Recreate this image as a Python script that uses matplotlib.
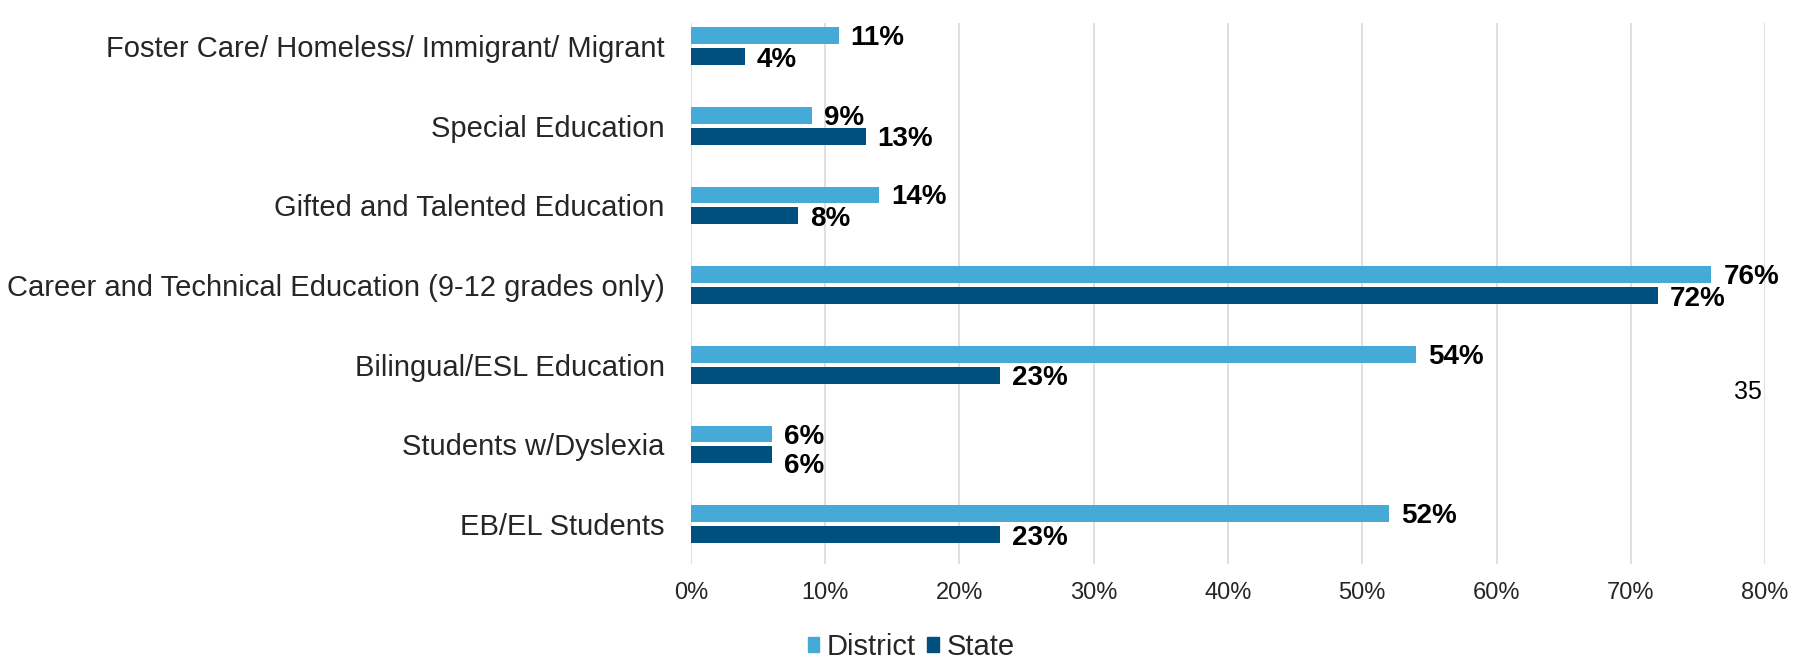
import numpy as np
import matplotlib
matplotlib.use("Agg")
import matplotlib.pyplot as plt
from matplotlib.patches import Patch

plt.rcParams['font.family'] = ['Liberation Sans', 'DejaVu Sans']

# program participation, district vs state (bottom to top)
categories = [
    "EB/EL Students",
    "Students w/Dyslexia",
    "Bilingual/ESL Education",
    "Career and Technical Education (9-12 grades only)",
    "Gifted and Talented Education",
    "Special Education",
    "Foster Care/ Homeless/ Immigrant/ Migrant",
]
district = [52, 6, 54, 76, 14, 9, 11]
state = [23, 6, 23, 72, 8, 13, 4]
xticks = [0, 10, 20, 30, 40, 50, 60, 70, 80]

c_district = "#46AAD6"
c_state = "#00507F"
txt = "#262626"

W, H = 1806, 660
fig = plt.figure(figsize=(W / 100, H / 100), dpi=100)
ax = fig.add_axes([691 / W, 96 / H, (1765 - 691) / W, (564 - 23) / H])

y = np.arange(len(categories))
h = 0.21
off = 0.13
ax.barh(y + off, district, height=h, color=c_district, zorder=2)
ax.barh(y - off, state, height=h, color=c_state, zorder=2)

for yi, d, s in zip(y, district, state):
    # push the lower label down when both labels would sit at the same x
    nudge = 0.1 if d == s else 0.0
    ax.annotate(f"{d}%", (d, yi + off - 0.03), xytext=(12, 0), textcoords="offset pixels",
                ha="left", va="center", fontsize=20, fontweight="bold", color="black")
    ax.annotate(f"{s}%", (s, yi - off - 0.04 - nudge), xytext=(12, 0), textcoords="offset pixels",
                ha="left", va="center", fontsize=20, fontweight="bold", color="black")

ax.set_xlim(0, 80)
ax.set_ylim(-0.5, 6.29)
ax.set_xticks(xticks)
ax.set_xticklabels([f"{t}%" for t in xticks], fontsize=17, color=txt)
ax.set_yticks(y)
ax.set_yticklabels(categories, fontsize=21, color=txt)
ax.tick_params(axis="x", length=0, pad=13)
ax.tick_params(axis="y", length=0, pad=19)
ax.grid(axis="x", color="#D9D9D9", linewidth=1.2, zorder=0)
for sp in ax.spines.values():
    sp.set_visible(False)

handles = [Patch(color=c_district, label="District"), Patch(color=c_state, label="State")]
fig.legend(handles=handles, loc="center", bbox_to_anchor=(911 / W, 1 - 647 / H),
           ncol=2, frameon=False, fontsize=21, handlelength=0.4, handleheight=0.4,
           handletextpad=0.25, columnspacing=0.4, labelcolor=txt)

fig.text(1748 / W, 1 - 392 / H, "35", ha="center", va="center", fontsize=18, color="black")

fig.savefig("out.png", dpi=100, facecolor="white")
